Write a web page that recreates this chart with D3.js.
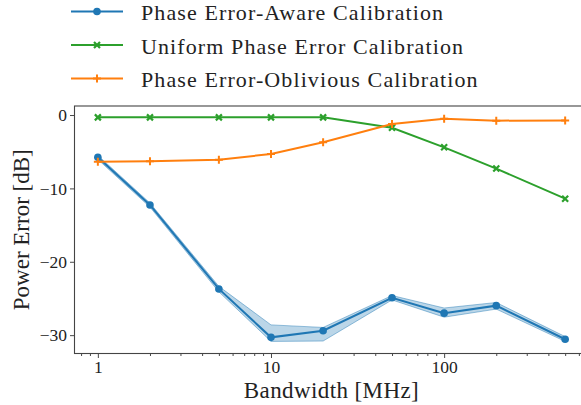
<!DOCTYPE html>
<html>
<head>
<meta charset="utf-8">
<script src="https://cdn.jsdelivr.net/npm/d3@7"></script>
<style>
  html, body { margin: 0; padding: 0; background: #fff; }
  svg { display: block; }
  text { font-family: "Liberation Serif", "DejaVu Serif", serif; fill: #222; }
</style>
</head>
<body>
<svg id="chart" width="581" height="405"></svg>
<script>
// Bandwidth sweep (MHz)
const bandwidths = [1, 2, 5, 10, 20, 50, 100, 200, 500];

// Power error in dB for each calibration method
const awareMean  = [-5.76, -12.26, -23.7, -30.3, -29.4, -24.9, -27.0, -25.98, -30.56];
const awareUpper = [-5.5, -12.0, -23.35, -28.6, -28.95, -24.6, -26.3, -25.55, -30.2];
const awareLower = [-6.05, -12.55, -24.1, -30.85, -30.8, -25.2, -27.55, -26.45, -30.85];
const uniform    = [-0.32, -0.32, -0.32, -0.32, -0.32, -1.73, -4.4, -7.3, -11.4];
const oblivious  = [-6.36, -6.3, -6.09, -5.31, -3.72, -1.23, -0.5, -0.77, -0.73];

const seriesNames = [
  "Phase Error-Aware Calibration",
  "Uniform Phase Error Calibration",
  "Phase Error-Oblivious Calibration"
];
const seriesColors = ["#1f77b4", "#2ca02c", "#ff7f0e"];

const xTickValues = [1, 10, 100];
const yTickValues = [0, -10, -20, -30];

const svg = d3.select("#chart");

// Plot area (the right edge runs past the canvas and is cut off)
const plot = { left: 74.5, right: 588.5, top: 106, bottom: 353.5 };

const x = d3.scaleLog().domain([0.733, 682]).range([plot.left, plot.right]);
const y = d3.scaleLinear().domain([-32.5, 1.23]).range([plot.bottom, plot.top]);

const minus = v => (v < 0 ? "\u2212" + Math.abs(v) : String(v));

// Axes
const gx = svg.append("g").attr("transform", `translate(0,${plot.bottom})`)
  .call(d3.axisBottom(x).tickValues(xTickValues).tickFormat(d => String(d)).tickSize(4.5).tickPadding(3));
const minorX = [];
for (let dec = 0.1; dec < 1000; dec *= 10) {
  for (let k = 2; k <= 9; k++) {
    const v = +(k * dec).toPrecision(3);
    if (v > x.domain()[0] && v < x.domain()[1]) minorX.push(v);
  }
}
const gxm = svg.append("g").attr("transform", `translate(0,${plot.bottom})`)
  .call(d3.axisBottom(x).tickValues(minorX).tickFormat("").tickSize(2.5));
const gy = svg.append("g").attr("transform", `translate(${plot.left},0)`)
  .call(d3.axisLeft(y).tickValues(yTickValues).tickFormat(minus).tickSize(4.5).tickPadding(3));

[gx, gxm, gy].forEach(g => {
  g.select(".domain").remove();
  g.selectAll(".tick line").attr("stroke", "#333").attr("stroke-width", 0.9);
  g.selectAll(".tick text").style("font-family", '"Liberation Serif", serif')
    .style("font-size", "17.5px").attr("fill", "#222");
});

// Frame
svg.append("rect")
  .attr("x", plot.left).attr("y", plot.top)
  .attr("width", plot.right - plot.left).attr("height", plot.bottom - plot.top)
  .attr("fill", "none").attr("stroke", "#444").attr("stroke-width", 1.1);

// Uncertainty band for the phase-error-aware method
const band = d3.area()
  .x((d, i) => x(bandwidths[i]))
  .y0((d, i) => y(awareLower[i]))
  .y1((d, i) => y(awareUpper[i]));
svg.append("path").datum(awareMean)
  .attr("d", band)
  .attr("fill", seriesColors[0]).attr("fill-opacity", 0.3)
  .attr("stroke", seriesColors[0]).attr("stroke-opacity", 0.45).attr("stroke-width", 1);

const line = d3.line().x((d, i) => x(bandwidths[i])).y(d => y(d));

function drawMarker(g, kind, cx, cy, color, s) {
  if (kind === "circle") {
    g.append("circle").attr("cx", cx).attr("cy", cy).attr("r", s).attr("fill", color);
  } else if (kind === "x") {
    g.append("path")
      .attr("d", `M${cx - s},${cy - s}L${cx + s},${cy + s}M${cx - s},${cy + s}L${cx + s},${cy - s}`)
      .attr("stroke", color).attr("stroke-width", 2.2).attr("fill", "none");
  } else {
    g.append("path")
      .attr("d", `M${cx - s},${cy}L${cx + s},${cy}M${cx},${cy - s}L${cx},${cy + s}`)
      .attr("stroke", color).attr("stroke-width", 2).attr("fill", "none");
  }
}

const seriesData = [awareMean, uniform, oblivious];
const markerKinds = ["circle", "x", "+"];
const markerSizes = [3.8, 3, 4];

seriesData.forEach((vals, si) => {
  const g = svg.append("g");
  g.append("path").datum(vals).attr("d", line)
    .attr("fill", "none").attr("stroke", seriesColors[si]).attr("stroke-width", 2);
  vals.forEach((v, i) => drawMarker(g, markerKinds[si], x(bandwidths[i]), y(v), seriesColors[si], markerSizes[si]));
});

// Axis titles
svg.append("text")
  .attr("x", (plot.left + plot.right) / 2).attr("y", 397.5)
  .attr("text-anchor", "middle").style("font-size", "23px")
  .style("letter-spacing", "0.4px")
  .text("Bandwidth [MHz]");
svg.append("text")
  .attr("transform", `translate(29,${(plot.top + plot.bottom) / 2}) rotate(-90)`)
  .attr("text-anchor", "middle").style("font-size", "23px")
  .text("Power Error [dB]");

// Legend above the plot
const legendRows = [11.5, 45, 78.5];
seriesNames.forEach((name, si) => {
  const g = svg.append("g");
  const ly = legendRows[si];
  g.append("line").attr("x1", 71).attr("x2", 123).attr("y1", ly).attr("y2", ly)
    .attr("stroke", seriesColors[si]).attr("stroke-width", 2);
  drawMarker(g, markerKinds[si], 97, ly, seriesColors[si], markerSizes[si]);
  g.append("text").attr("x", 141).attr("y", ly + 8.5)
    .style("font-size", "22px").style("letter-spacing", "1.1px").text(name);
});
</script>
</body>
</html>
